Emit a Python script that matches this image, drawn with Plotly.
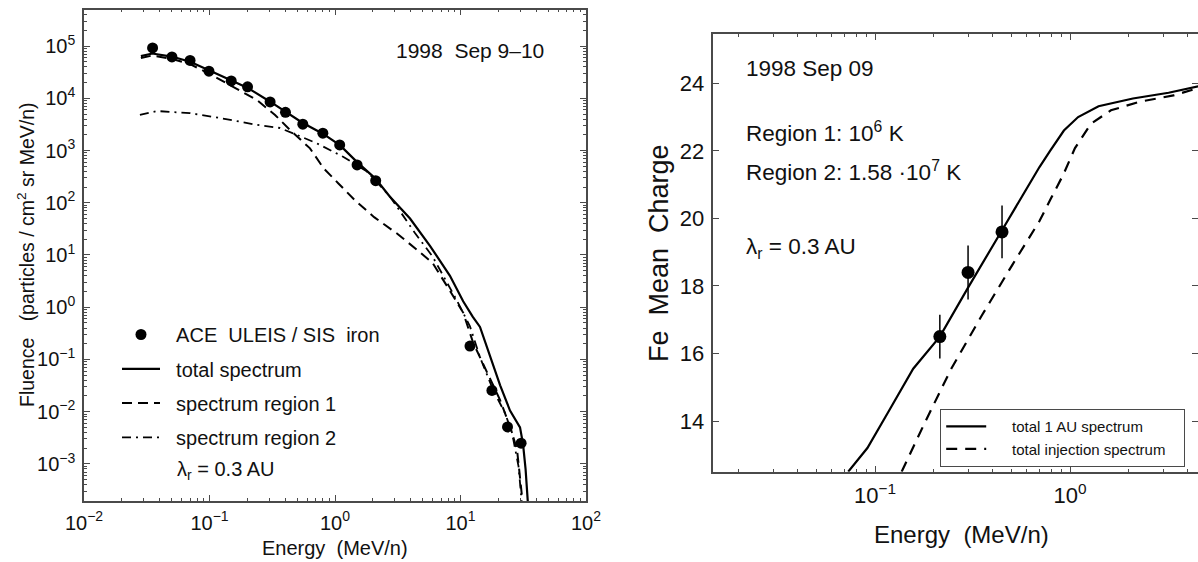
import plotly.graph_objects as go

# ---------------- Left panel data ----------------
ace_energy = [0.0352, 0.0502, 0.070, 0.099, 0.149, 0.201, 0.304, 0.403, 0.554, 0.80, 1.09, 1.50, 2.11, 11.9, 17.8, 23.7, 30.4]
ace_fluence = [9.2e4, 6.2e4, 5.3e4, 3.3e4, 2.15e4, 1.66e4, 8.5e3, 5.4e3, 3.2e3, 2.15e3, 1.28e3, 530, 265, 0.18, 0.0255, 5.1e-3, 2.5e-3]

total_energy = [0.0284, 0.035, 0.05, 0.07, 0.1, 0.15, 0.2, 0.3, 0.4, 0.55, 0.8, 1.1, 1.5, 2.1, 2.74, 3.96, 5.71, 8.24, 10.5, 12.5, 14.3, 17.2, 20.7, 24.8, 29.8, 31.5, 33.0, 35.0]
total_fluence = [6.4e4, 7.2e4, 6.3e4, 5.0e4, 3.4e4, 2.2e4, 1.6e4, 8.8e3, 5.6e3, 3.4e3, 2.1e3, 1.25e3, 600, 290, 130, 50, 15, 4.0, 1.3, 0.66, 0.42, 0.12, 0.032, 0.0105, 5e-3, 2.4e-3, 8e-4, 1e-4]

region1_energy = [0.0284, 0.035, 0.05, 0.07, 0.1, 0.16, 0.238, 0.333, 0.452, 0.632, 0.81, 1.06, 1.45, 2.05, 3.1, 4.5, 6.0, 8.2, 10.5, 12.6, 16.2, 20.6, 24.8, 28.2, 30.9]
region1_fluence = [5.9e4, 6.6e4, 5.7e4, 4.5e4, 2.95e4, 1.55e4, 9.3e3, 4.8e3, 2.3e3, 1.1e3, 460, 237, 110, 53, 26, 12.6, 7.0, 2.1, 0.79, 0.21, 0.056, 0.017, 5.2e-3, 1.9e-3, 2.4e-4]

region2_energy = [0.0279, 0.038, 0.07, 0.128, 0.238, 0.364, 0.495, 0.714, 1.16, 1.79, 2.74, 4.35, 6.0, 9.3, 11.9, 14.3, 18.2, 22.6, 25.7, 29.0, 31.0]
region2_fluence = [4.8e3, 5.7e3, 5.2e3, 4.1e3, 3.1e3, 2.7e3, 2.0e3, 1.38e3, 760, 400, 132, 26, 9.3, 1.38, 0.43, 0.11, 0.026, 9.5e-3, 4.0e-3, 9e-4, 1.5e-4]

left_xtick_vals = [0.01, 0.1, 1, 10, 100]
left_xtick_text = ["10<sup>−2</sup>", "10<sup>−1</sup>", "10<sup>0</sup>", "10<sup>1</sup>", "10<sup>2</sup>"]
left_ytick_vals = [1e-3, 1e-2, 1e-1, 1, 10, 100, 1e3, 1e4, 1e5]
left_ytick_text = ["10<sup>−3</sup>", "10<sup>−2</sup>", "10<sup>−1</sup>", "10<sup>0</sup>", "10<sup>1</sup>",
                   "10<sup>2</sup>", "10<sup>3</sup>", "10<sup>4</sup>", "10<sup>5</sup>"]

# ---------------- Right panel data ----------------
charge_energy = [0.215, 0.30, 0.448]
charge_mean = [16.5, 18.4, 19.6]
charge_err = [0.65, 0.8, 0.78]

au_energy = [0.0729, 0.0914, 0.12, 0.157, 0.215, 0.30, 0.448, 0.555, 0.697, 0.79, 0.93, 1.1, 1.4, 2.1, 3.2, 4.6]
au_charge = [12.5, 13.2, 14.38, 15.55, 16.5, 17.95, 19.65, 20.56, 21.52, 22.0, 22.6, 23.0, 23.32, 23.55, 23.72, 23.92]

inj_energy = [0.137, 0.18, 0.246, 0.354, 0.508, 0.697, 0.80, 0.924, 1.06, 1.28, 1.62, 2.3, 3.39, 4.6]
inj_charge = [12.5, 13.95, 15.55, 17.14, 18.64, 19.92, 20.6, 21.3, 22.08, 22.8, 23.2, 23.46, 23.64, 23.87]

right_xtick_vals = [0.1, 1]
right_xtick_text = ["10<sup>−1</sup>", "10<sup>0</sup>"]
right_ytick_vals = [14, 16, 18, 20, 22, 24]

FONT = "Liberation Sans, Arial, Helvetica, sans-serif"
W, H = 1198, 562
AX = "#4a4a4a"
NB = "\u00a0"

def px(x):
    return x / W

def py(y):
    return 1 - y / H

fig = go.Figure()

# Left panel traces
fig.add_trace(go.Scatter(x=ace_energy, y=ace_fluence, mode="markers", name=NB * 2 + "ACE  ULEIS / SIS  iron",
                         marker=dict(color="black", size=11), xaxis="x", yaxis="y",
                         legend="legend", legendgroup="a", cliponaxis=False))
fig.add_trace(go.Scatter(x=total_energy, y=total_fluence, mode="lines", name=NB * 2 + "total spectrum",
                         line=dict(color="black", width=2.2), xaxis="x", yaxis="y",
                         legend="legend", legendgroup="b"))
fig.add_trace(go.Scatter(x=region1_energy, y=region1_fluence, mode="lines", name=NB * 2 + "spectrum region 1",
                         line=dict(color="black", width=2, dash="10px,6px"), xaxis="x", yaxis="y",
                         legend="legend", legendgroup="c"))
fig.add_trace(go.Scatter(x=region2_energy, y=region2_fluence, mode="lines", name=NB * 2 + "spectrum region 2",
                         line=dict(color="black", width=1.8, dash="9px,5px,2px,5px"), xaxis="x", yaxis="y",
                         legend="legend", legendgroup="d"))

# Right panel traces
fig.add_trace(go.Scatter(x=au_energy, y=au_charge, mode="lines", name=NB * 5 + "total 1 AU spectrum",
                         line=dict(color="black", width=2.2), xaxis="x2", yaxis="y2", legend="legend2"))
fig.add_trace(go.Scatter(x=inj_energy, y=inj_charge, mode="lines", name=NB * 5 + "total injection spectrum" + NB * 3,
                         line=dict(color="black", width=2.2, dash="11px,8px"), xaxis="x2", yaxis="y2", legend="legend2"))
fig.add_trace(go.Scatter(x=charge_energy, y=charge_mean, mode="markers", showlegend=False,
                         marker=dict(color="black", size=13),
                         error_y=dict(type="data", array=charge_err, color="black", thickness=1.5, width=0),
                         xaxis="x2", yaxis="y2"))

axis_common = dict(showline=True, linecolor=AX, linewidth=1.5, mirror="allticks", showgrid=False,
                   zeroline=False, ticks="inside", tickcolor=AX, tickwidth=1.2, ticklabelstandoff=3,
                   automargin=False)

fig.update_layout(
    width=W, height=H, autosize=False,
    margin=dict(l=0, r=0, t=0, b=0, pad=0, autoexpand=False),
    paper_bgcolor="white", plot_bgcolor="white",
    font=dict(family=FONT, color="#111"),
    xaxis=dict(axis_common, type="log", range=[-2, 2], domain=[px(84), px(586)],
               tickvals=left_xtick_vals, ticktext=left_xtick_text, ticklen=6,
               tickfont=dict(family=FONT, size=20, color="#111"),
               minor=dict(ticks="inside", ticklen=3, dtick="D1", tickcolor=AX), anchor="y"),
    yaxis=dict(axis_common, type="log", range=[-3.71, 5.70], domain=[py(501), py(9.5)],
               tickvals=left_ytick_vals, ticktext=left_ytick_text, ticklen=6,
               tickfont=dict(family=FONT, size=20, color="#111"),
               minor=dict(ticks="inside", ticklen=3, dtick="D1", tickcolor=AX), anchor="x"),
    xaxis2=dict(axis_common, type="log", range=[-1.829, 0.656], domain=[px(713.3), 1.0],
                tickvals=right_xtick_vals, ticktext=right_xtick_text, ticklen=6,
                tickfont=dict(family=FONT, size=22, color="#111"),
                minor=dict(ticks="inside", ticklen=3, dtick="D1", tickcolor=AX), anchor="y2"),
    yaxis2=dict(axis_common, range=[12.5, 25.45], domain=[py(471.7), py(34.3)],
                tickvals=right_ytick_vals, ticklen=6,
                tickfont=dict(family=FONT, size=22, color="#111"), anchor="x2"),
    legend=dict(x=px(117), y=py(315), xanchor="left", yanchor="top", bgcolor="rgba(0,0,0,0)",
                font=dict(family=FONT, size=20, color="#111"), traceorder="grouped",
                tracegroupgap=5.3, itemwidth=38),
    legend2=dict(x=px(940), y=py(409), xanchor="left", yanchor="top", bgcolor="white",
                 bordercolor=AX, borderwidth=1.2,
                 font=dict(family=FONT, size=15, color="#111"), itemwidth=40),
    showlegend=True,
)

annotations = [
    dict(text="1998  Sep 9–10", x=px(470), y=py(50), font=dict(size=21)),
    dict(text="λ<sub>r</sub> = 0.3 AU", x=px(175), y=py(470), xanchor="left", font=dict(size=20)),
    dict(text="Energy  (MeV/n)", x=px(335), y=py(548), font=dict(size=20)),
    dict(text="Fluence   (particles / cm<sup>2</sup> sr MeV/n)", x=px(26), y=py(255), textangle=-90, font=dict(size=19.5)),
    dict(text="1998 Sep 09", x=px(744), y=py(68), xanchor="left", font=dict(size=22.5)),
    dict(text="Region 1: 10<sup>6</sup> K", x=px(744), y=py(132), xanchor="left", font=dict(size=22.5)),
    dict(text="Region 2: 1.58 ·10<sup>7</sup> K", x=px(744), y=py(171), xanchor="left", font=dict(size=22.5)),
    dict(text="λ<sub>r</sub> = 0.3 AU", x=px(744), y=py(248), xanchor="left", font=dict(size=22.5)),
    dict(text="Energy  (MeV/n)", x=px(961), y=py(534), font=dict(size=24)),
    dict(text="Fe  Mean  Charge", x=px(659), y=py(253), textangle=-90, font=dict(size=27)),
]
for a in annotations:
    a.setdefault("xanchor", "center")
    a.update(xref="paper", yref="paper", showarrow=False, yanchor="middle")
    a["font"] = dict(family=FONT, color="#111", **a["font"])
fig.update_layout(annotations=annotations)

fig.write_html("out.html", config={"displayModeBar": False, "responsive": False},
               post_script="document.body.style.margin='0';document.documentElement.style.overflow='hidden';")
